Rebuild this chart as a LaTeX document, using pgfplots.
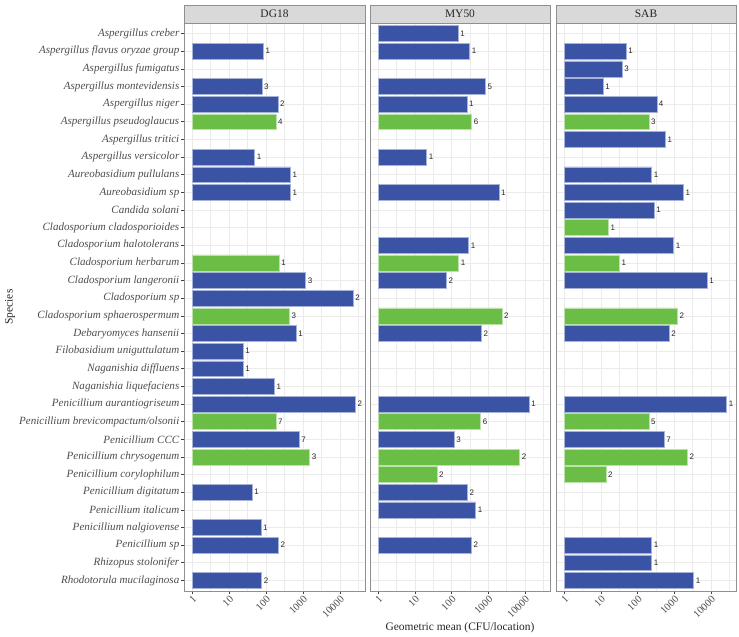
\documentclass[border=0pt]{standalone}
\usepackage{pgfplots}
\pgfplotsset{compat=1.18}
\usepackage{pgfplotstable}
\usepackage{fontspec}
\setmainfont{Liberation Serif}
\newfontfamily\lsans{Liberation Sans}
\definecolor{barblue}{HTML}{3A53A4}
\definecolor{bargreen}{HTML}{6ABD45}
\definecolor{gridc}{HTML}{EBEBEB}
\definecolor{framec}{HTML}{8F8F8F}
\definecolor{stripc}{HTML}{D9D9D9}
\definecolor{txtc}{HTML}{4D4D4D}

% k = row (1 = Aspergillus creber ... 32 = Rhodotorula mucilaginosa), v = geometric mean, n = count
\pgfplotstableread{
k v n
2 85 1
4 77 3
5 208 2
8 49 1
9 458 1
10 458 1
15 1175 3
16 22900 2
18 655 1
19 24 1
20 24 1
21 168 1
22 26500 2
24 790 7
27 42 1
29 73 1
30 217 2
32 76 2
}\dgblue
\pgfplotstableread{
k v n
6 186 4
14 225 1
17 430 3
23 186 7
25 1510 3
}\dggreen
\pgfplotstableread{
k v n
1 152 1
2 311 1
4 830 5
5 263 1
8 21 1
10 1950 1
13 290 1
15 72 2
18 645 2
22 13000 1
24 117 3
27 268 2
28 455 1
30 345 2
}\myblue
\pgfplotstableread{
k v n
6 353 6
14 156 1
17 2350 2
23 620 6
25 7100 2
26 40 2
}\mygreen
\pgfplotstableread{
k v n
2 49 1
3 38 3
4 11.5 1
5 333 4
7 575 1
9 240 1
10 1770 1
11 282 1
13 960 1
15 7800 1
18 720 2
22 26700 1
24 525 7
30 240 1
31 240 1
32 3380 1
}\sabblue
\pgfplotstableread{
k v n
6 203 3
12 16 1
14 32 1
17 1210 2
23 203 5
25 2270 2
26 13.6 2
}\sabgreen

\pgfplotsset{
 every axis/.append style={
  scale only axis, height=568bp,
  xmin=0.6, xmax=48000,
  ymin=0.4, ymax=32.6, y dir=reverse,
  xtick={1,10,100,1000,10000},
  xticklabels={1,10,100,1000,10000},
  minor xtick={3.1623,31.623,316.23,3162.3,31623},
  ytick={1,...,32},
  xmajorgrids, xminorgrids, ymajorgrids,
  major grid style={gridc, line width=0.6bp},
  minor grid style={gridc, line width=0.3bp},
  axis line style={framec, line width=0.8bp},
  tick align=outside, xtick pos=left, ytick pos=left,
  major tick length=3bp, minor tick length=0pt,
  major tick style={black!75, line width=0.6bp},
  xticklabel style={rotate=45, anchor=north east, font=\fontsize{10.5}{11}\selectfont, text=txtc, inner sep=0.5pt},
  bar width=0.9,
  point meta=explicit symbolic,
  clip=false,
 },
 every node near coord/.append style={font=\lsans\fontsize{8}{9}\selectfont, text=black!85, anchor=west, inner sep=2pt},
}

\newcommand{\facetstrip}[1]{%
  \draw[framec, fill=stripc, line width=0.8bp] (axis description cs:0,1) rectangle ([yshift=18bp]axis description cs:1,1);
  \node[font=\fontsize{11.5}{12}\selectfont, text=black!85] at ([yshift=9bp]axis description cs:0.5,1) {#1};
}

\begin{document}
\begin{tikzpicture}
\useasboundingbox (0,0) rectangle (739bp,637bp);

\begin{semilogxaxis}[xbar, bar shift=0pt, nodes near coords, width=181bp, at={(184bp,46bp)}, anchor=south west,
  yticklabels={Aspergillus creber, Aspergillus flavus oryzae group, Aspergillus fumigatus, Aspergillus montevidensis, Aspergillus niger, Aspergillus pseudoglaucus, Aspergillus tritici, Aspergillus versicolor, Aureobasidium pullulans, Aureobasidium sp, Candida solani, Cladosporium cladosporioides, Cladosporium halotolerans, Cladosporium herbarum, Cladosporium langeronii, Cladosporium sp, Cladosporium sphaerospermum, Debaryomyces hansenii, Filobasidium uniguttulatum, Naganishia diffluens, Naganishia liquefaciens, Penicillium aurantiogriseum, Penicillium brevicompactum/olsonii, Penicillium CCC, Penicillium chrysogenum, Penicillium corylophilum, Penicillium digitatum, Penicillium italicum, Penicillium nalgiovense, Penicillium sp, Rhizopus stolonifer, Rhodotorula mucilaginosa},
  yticklabel style={font=\itshape\fontsize{11.1}{12}\selectfont, text=txtc, inner sep=1.5pt}]
\addplot[fill=barblue, draw=barblue!45!white, line width=0.5bp] table[x=v, y=k, meta=n] {\dgblue};
\addplot[fill=bargreen, draw=bargreen!45!white, line width=0.5bp] table[x=v, y=k, meta=n] {\dggreen};
\facetstrip{DG18}
\end{semilogxaxis}

\begin{semilogxaxis}[xbar, bar shift=0pt, nodes near coords, width=180bp, at={(370bp,46bp)}, anchor=south west,
  yticklabels={}, ytick style={draw=none}]
\addplot[fill=barblue, draw=barblue!45!white, line width=0.5bp] table[x=v, y=k, meta=n] {\myblue};
\addplot[fill=bargreen, draw=bargreen!45!white, line width=0.5bp] table[x=v, y=k, meta=n] {\mygreen};
\facetstrip{MY50}
\end{semilogxaxis}

\begin{semilogxaxis}[xbar, bar shift=0pt, nodes near coords, width=180bp, at={(556bp,46bp)}, anchor=south west,
  yticklabels={}, ytick style={draw=none}]
\addplot[fill=barblue, draw=barblue!45!white, line width=0.5bp] table[x=v, y=k, meta=n] {\sabblue};
\addplot[fill=bargreen, draw=bargreen!45!white, line width=0.5bp] table[x=v, y=k, meta=n] {\sabgreen};
\facetstrip{SAB}
\end{semilogxaxis}

\node[rotate=90, font=\fontsize{11.5}{12}\selectfont, text=black!85] at (10bp,330bp) {Species};
\node[font=\fontsize{11.5}{12}\selectfont, text=black!85] at (460bp,9bp) {Geometric mean (CFU/location)};
\end{tikzpicture}
\end{document}
